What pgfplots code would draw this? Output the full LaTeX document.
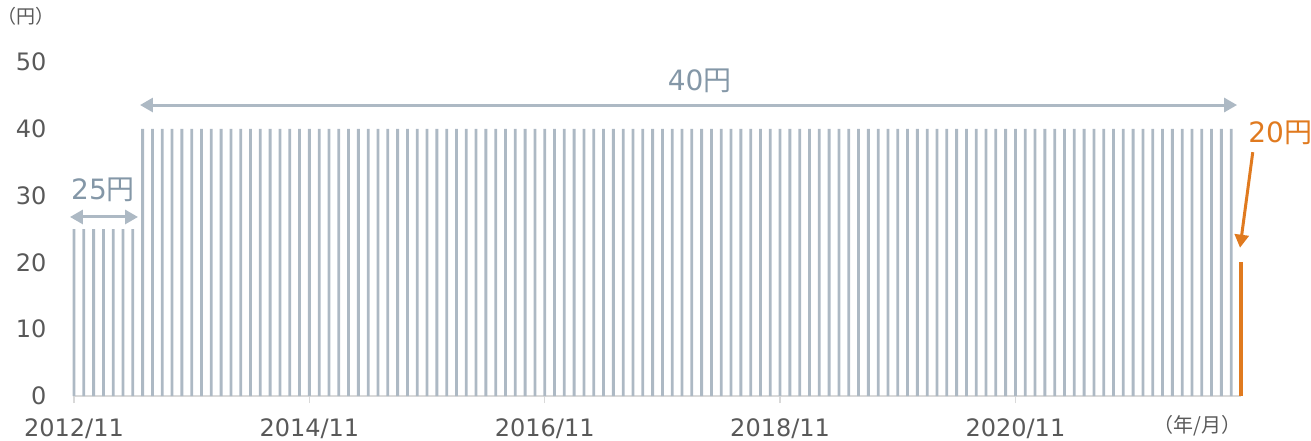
\documentclass[border=0pt]{standalone}
\usepackage{pgfplots}
\pgfplotsset{compat=1.18}
\usepackage{fontspec}
\setmainfont{DejaVu Sans}
\newfontfamily\cjk{Noto Sans CJK JP}
\usetikzlibrary{arrows.meta}
\definecolor{bargrey}{HTML}{ADB9C4}
\definecolor{txtgrey}{HTML}{595959}
\definecolor{annot}{HTML}{8497A7}
\definecolor{orng}{HTML}{E07A1F}
\definecolor{axgrey}{HTML}{D9D9D9}
\begin{document}
\begin{tikzpicture}
\useasboundingbox (-74pt,-44pt) rectangle (1237pt,396pt);
\begin{axis}[
  at={(0,0)}, anchor=south west,
  scale only axis, width=1167pt, height=334pt,
  xmin=0, xmax=119, ymin=0, ymax=50,
  axis lines*=left,
  axis line style={-},
  x axis line style={axgrey, line width=1.5pt},
  y axis line style={draw=none},
  tick align=outside,
  xtick={0,24,48,72,96},
  xticklabels={2012/11,2014/11,2016/11,2018/11,2020/11},
  ytick={0,10,20,30,40,50},
  x tick style={axgrey, line width=1.2pt},
  y tick style={draw=none},
  major tick length=7pt,
  /pgf/number format/assume math mode=true,
  tick label style={font=\fontsize{24}{28}\selectfont, text=txtgrey},
  xticklabel style={yshift=-12pt},
  yticklabel style={xshift=-17pt},
  clip=false,
]
\addplot[ybar, bar width=2.8pt, fill=bargrey, draw=none] coordinates {
(0,25)(1,25)(2,25)(3,25)(4,25)(5,25)(6,25)
(7,40)(8,40)(9,40)(10,40)(11,40)(12,40)(13,40)(14,40)(15,40)(16,40)
(17,40)(18,40)(19,40)(20,40)(21,40)(22,40)(23,40)(24,40)(25,40)(26,40)
(27,40)(28,40)(29,40)(30,40)(31,40)(32,40)(33,40)(34,40)(35,40)(36,40)
(37,40)(38,40)(39,40)(40,40)(41,40)(42,40)(43,40)(44,40)(45,40)(46,40)
(47,40)(48,40)(49,40)(50,40)(51,40)(52,40)(53,40)(54,40)(55,40)(56,40)
(57,40)(58,40)(59,40)(60,40)(61,40)(62,40)(63,40)(64,40)(65,40)(66,40)
(67,40)(68,40)(69,40)(70,40)(71,40)(72,40)(73,40)(74,40)(75,40)(76,40)
(77,40)(78,40)(79,40)(80,40)(81,40)(82,40)(83,40)(84,40)(85,40)(86,40)
(87,40)(88,40)(89,40)(90,40)(91,40)(92,40)(93,40)(94,40)(95,40)(96,40)
(97,40)(98,40)(99,40)(100,40)(101,40)(102,40)(103,40)(104,40)(105,40)(106,40)
(107,40)(108,40)(109,40)(110,40)(111,40)(112,40)(113,40)(114,40)(115,40)(116,40)
(117,40)(118,40)
};
\addplot[ybar, bar width=3.2pt, fill=orng, draw=none] coordinates {(119,20)};
% annotations
\draw[bargrey, line width=3pt, {Triangle[length=13pt,width=14pt]}-{Triangle[length=13pt,width=14pt]}] (axis cs:6.73,43.56) -- (axis cs:118.6,43.56);
\node[text=annot, font=\fontsize{28}{32}\selectfont] at (axis cs:63.8,47.2) {40{\cjk 円}};
\draw[bargrey, line width=3pt, {Triangle[length=13pt,width=14pt]}-{Triangle[length=13pt,width=14pt]}] (axis cs:-0.41,26.8) -- (axis cs:6.53,26.8);
\node[text=annot, font=\fontsize{28}{32}\selectfont] at (axis cs:2.96,30.8) {25{\cjk 円}};
\draw[orng, line width=3pt, -{Triangle[length=13pt,width=14pt]}] (axis cs:120.2,36.5) -- (axis cs:118.9,22.2);
\node[text=orng, font=\fontsize{28}{32}\selectfont] at (axis cs:123,39.4) {20{\cjk 円}};
\node[text=txtgrey, font=\cjk\fontsize{19}{22}\selectfont] at (axis cs:-4.9,56.9) {（円）};
\node[text=txtgrey, font=\cjk\fontsize{20}{23}\selectfont] at (axis cs:114.6,-4.5) {（年/月）};
\end{axis}
\end{tikzpicture}
\end{document}
